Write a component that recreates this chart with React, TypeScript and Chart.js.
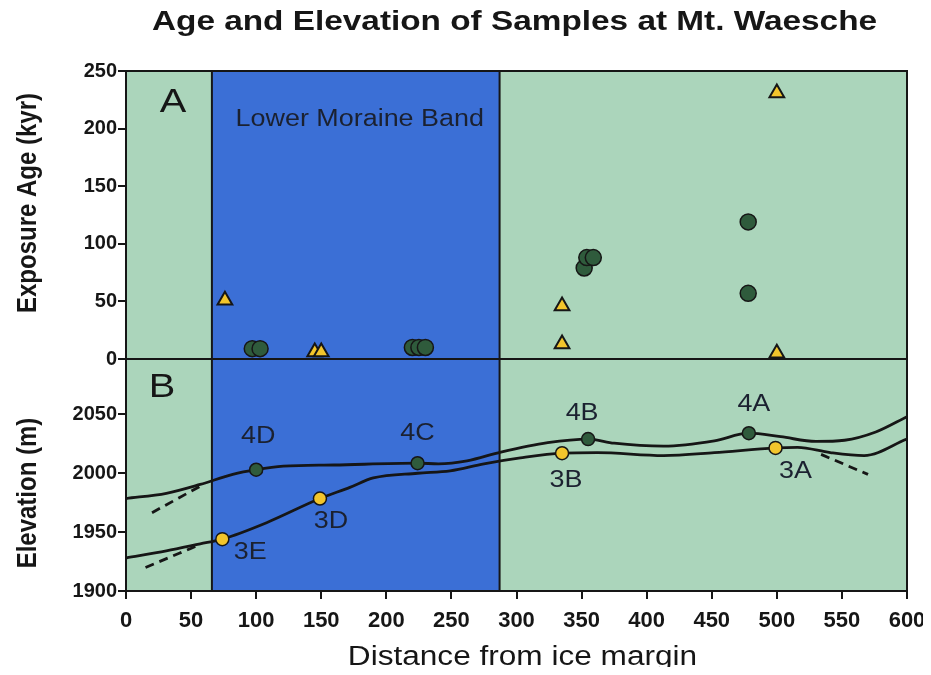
import React, { useEffect, useRef } from 'react';
import { Chart, registerables } from 'chart.js';

Chart.register(...registerables);

// ---------- data ----------
const xTicks = [0, 50, 100, 150, 200, 250, 300, 350, 400, 450, 500, 550, 600];
const ageTicks = [0, 50, 100, 150, 200, 250];
const elevTicks = [1900, 1950, 2000, 2050];

const moraineBand = [66, 287];

// Panel A: exposure ages (kyr)
const ageCircleX = [97, 103, 220, 225, 230, 352, 354, 359, 478, 478];
const ageCircleY = [9, 9, 10, 10, 10, 79, 88, 88, 119, 57];
const ageTriangleX = [76, 145, 150, 335, 335, 500, 500];
const ageTriangleY = [51, 6, 6, 46, 13, 231, 5];

// Panel B: moraine profiles (elevation, m)
const upperX = [0, 31, 57, 82, 100, 121, 160, 224, 240, 262, 288, 324, 355, 375, 413, 452, 478.5, 503, 530, 552, 576, 600];
const upperY = [1978.5, 1983, 1990.5, 1999, 2003, 2006, 2007, 2008.5, 2008, 2010.5, 2018, 2026, 2029, 2025.5, 2023, 2027.5, 2034, 2031, 2027, 2028, 2035, 2048];
const lowerX = [0, 31, 57, 74, 108, 149, 172, 190, 224, 249, 275, 303, 335, 362, 413, 452, 499, 516, 541, 567, 600];
const lowerY = [1928, 1934, 1940, 1944, 1958, 1978.5, 1988, 1996, 2000, 2002, 2008, 2013, 2017, 2017.5, 2015, 2017.5, 2021.5, 2022, 2017.5, 2015, 2029];
const dashUpperX = [20, 57];
const dashUpperY = [1966.5, 1989];
const dashLowerX = [15, 57];
const dashLowerY = [1920, 1939.5];
const dashRightX = [534, 570];
const dashRightY = [2016, 1999];

// Panel B: samples
const sample4Names = ['4D', '4C', '4B', '4A'];
const sample4X = [100, 224, 355, 478.5];
const sample4Y = [2003, 2008.5, 2029, 2034];
const sample3Names = ['3E', '3D', '3B', '3A'];
const sample3X = [74, 149, 335, 499];
const sample3Y = [1944, 1978.5, 2017, 2021.5];

// ---------- styles ----------
const FONT = '"Liberation Sans", Arial, Helvetica, sans-serif';
const GREEN_BG = '#abd5bb';
const BLUE_BG = '#3b6fd6';
const DARK_GREEN = '#2f5b3c';
const YELLOW = '#f2c52c';
const INK = '#161616';
const LABEL_INK = '#1b2130';
const STRETCH = 1.17;

const label4Offsets = [[2, -33], [0, -30], [-6, -25], [5, -29]];
const label3Offsets = [[28, 13], [11, 23], [4, 27], [20, 24]];

const pts = (xs: number[], ys: number[]) => xs.map((x, i) => ({ x, y: ys[i] }));

function drawText(
  ctx: CanvasRenderingContext2D,
  text: string,
  x: number,
  y: number,
  font: string,
  color: string,
  align: CanvasTextAlign = 'center',
  baseline: CanvasTextBaseline = 'middle',
  rotate = 0
) {
  ctx.save();
  ctx.translate(x, y);
  if (rotate) {
    ctx.rotate(rotate);
    ctx.scale(1, STRETCH);
  } else {
    ctx.scale(STRETCH, 1);
  }
  ctx.font = font;
  ctx.fillStyle = color;
  ctx.textAlign = align;
  ctx.textBaseline = baseline;
  ctx.fillText(text, 0, 0);
  ctx.restore();
}

const decorPlugin = {
  id: 'decor',
  beforeDatasetsDraw(chart: any) {
    const { ctx, chartArea } = chart;
    const { left, right, top, bottom } = chartArea;
    const x = chart.scales.x;
    const yA = chart.scales.yA;
    ctx.save();
    ctx.fillStyle = GREEN_BG;
    ctx.fillRect(left, top, right - left, bottom - top);
    const b0 = x.getPixelForValue(moraineBand[0]);
    const b1 = x.getPixelForValue(moraineBand[1]);
    ctx.fillStyle = BLUE_BG;
    ctx.fillRect(b0, top, b1 - b0, bottom - top);
    ctx.strokeStyle = INK;
    ctx.lineWidth = 2;
    ctx.beginPath();
    ctx.moveTo(b0, top);
    ctx.lineTo(b0, bottom);
    ctx.moveTo(b1, top);
    ctx.lineTo(b1, bottom);
    const y0 = yA.getPixelForValue(0);
    ctx.moveTo(left, y0);
    ctx.lineTo(right, y0);
    ctx.stroke();
    ctx.strokeRect(left, top, right - left, bottom - top);
    ctx.restore();
  },
  afterDraw(chart: any) {
    const { ctx, chartArea } = chart;
    const { left, right, top, bottom } = chartArea;
    const x = chart.scales.x;
    const yA = chart.scales.yA;
    const yB = chart.scales.yB;
    const cx = (left + right) / 2;
    drawText(ctx, 'Age and Elevation of Samples at Mt. Waesche', cx - 2, 22, `bold 28.5px ${FONT}`, INK, 'center', 'alphabetic');
    drawText(ctx, 'Distance from ice margin', cx + 6, bottom + 74, `27px ${FONT}`, INK, 'center', 'alphabetic');
    drawText(ctx, 'Exposure Age (kyr)', 28, (yA.top + yA.bottom) / 2 - 12, `bold 24px ${FONT}`, INK, 'center', 'alphabetic', -Math.PI / 2);
    drawText(ctx, 'Elevation (m)', 28, (yB.top + yB.bottom) / 2 + 18, `bold 24px ${FONT}`, INK, 'center', 'alphabetic', -Math.PI / 2);
    drawText(ctx, 'A', left + 47, top + 32, `34px ${FONT}`, INK);
    drawText(ctx, 'B', left + 36, yA.getPixelForValue(0) + 29, `34px ${FONT}`, INK);
    const bandCenter = (x.getPixelForValue(moraineBand[0]) + x.getPixelForValue(moraineBand[1])) / 2;
    drawText(ctx, 'Lower Moraine Band', bandCenter + 4, top + 49, `23px ${FONT}`, LABEL_INK);
    sample4Names.forEach((n, i) => {
      const px = x.getPixelForValue(sample4X[i]) + label4Offsets[i][0];
      const py = yB.getPixelForValue(sample4Y[i]) + label4Offsets[i][1];
      drawText(ctx, n, px, py, `23px ${FONT}`, LABEL_INK);
    });
    sample3Names.forEach((n, i) => {
      const px = x.getPixelForValue(sample3X[i]) + label3Offsets[i][0];
      const py = yB.getPixelForValue(sample3Y[i]) + label3Offsets[i][1];
      drawText(ctx, n, px, py, `23px ${FONT}`, LABEL_INK);
    });
  },
};

const tickFont = (size: number) => ({ family: FONT, size, weight: 'bold' as const });
const plainTick = (v: any) => String(v);

export default function App() {
  const canvasRef = useRef<HTMLCanvasElement | null>(null);

  useEffect(() => {
    const canvas = canvasRef.current;
    if (!canvas) return;

    const profileLine = (data: any[], dashed = false) => ({
      type: 'line' as const,
      data,
      yAxisID: 'yB',
      borderColor: INK,
      borderWidth: 2.8,
      borderDash: dashed ? [9, 6] : [],
      pointRadius: 0,
      fill: false,
      showLine: true,
      cubicInterpolationMode: 'monotone' as const,
    });

    const axisGrid = { display: true, drawOnChartArea: false, drawTicks: true, tickLength: 8, color: INK, lineWidth: 2 };
    const axisBorder = { display: true, color: INK, width: 2 };

    const chart = new Chart(canvas, {
      type: 'scatter',
      data: {
        datasets: [
          {
            data: pts(sample4X, sample4Y),
            yAxisID: 'yB',
            pointStyle: 'circle',
            pointRadius: 6.5,
            backgroundColor: DARK_GREEN,
            borderColor: INK,
            borderWidth: 1.5,
          },
          {
            data: pts(sample3X, sample3Y),
            yAxisID: 'yB',
            pointStyle: 'circle',
            pointRadius: 6.5,
            backgroundColor: YELLOW,
            borderColor: INK,
            borderWidth: 1.5,
          },
          {
            data: pts(ageTriangleX, ageTriangleY),
            yAxisID: 'yA',
            pointStyle: 'triangle',
            pointRadius: 8.5,
            backgroundColor: YELLOW,
            borderColor: INK,
            borderWidth: 2,
          },
          {
            data: pts(ageCircleX, ageCircleY),
            yAxisID: 'yA',
            pointStyle: 'circle',
            pointRadius: 8,
            backgroundColor: DARK_GREEN,
            borderColor: INK,
            borderWidth: 1.5,
          },
          profileLine(pts(upperX, upperY)),
          profileLine(pts(lowerX, lowerY)),
          profileLine(pts(dashUpperX, dashUpperY), true),
          profileLine(pts(dashLowerX, dashLowerY), true),
          profileLine(pts(dashRightX, dashRightY), true),
        ] as any,
      },
      options: {
        animation: false,
        responsive: false,
        devicePixelRatio: 1,
        layout: { padding: { left: 0, right: 24, top: 63, bottom: 0 } },
        plugins: { legend: { display: false }, tooltip: { enabled: false }, title: { display: false } },
        scales: {
          x: {
            type: 'linear',
            min: 0,
            max: 600,
            afterBuildTicks: (a: any) => {
              a.ticks = xTicks.map((v) => ({ value: v }));
            },
            afterFit: (a: any) => {
              a.height = 84;
              a.paddingLeft = 0;
              a.paddingRight = 0;
            },
            grid: axisGrid,
            border: axisBorder,
            ticks: { font: tickFont(22), color: INK, padding: 9, maxRotation: 0, autoSkip: false, callback: plainTick },
          },
          yB: {
            type: 'linear',
            position: 'left',
            stack: 'panels',
            stackWeight: 232,
            min: 1900,
            max: 2097,
            afterBuildTicks: (a: any) => {
              a.ticks = elevTicks.map((v) => ({ value: v }));
            },
            afterFit: (a: any) => {
              a.width = 118;
            },
            grid: axisGrid,
            border: axisBorder,
            ticks: { font: tickFont(20), color: INK, padding: 1, autoSkip: false, callback: plainTick },
          },
          yA: {
            type: 'linear',
            position: 'left',
            stack: 'panels',
            stackWeight: 288,
            min: 0,
            max: 250,
            afterBuildTicks: (a: any) => {
              a.ticks = ageTicks.map((v) => ({ value: v }));
            },
            afterFit: (a: any) => {
              a.width = 118;
            },
            grid: axisGrid,
            border: axisBorder,
            ticks: { font: tickFont(20), color: INK, padding: 1, autoSkip: false, callback: plainTick },
          },
        },
      } as any,
      plugins: [decorPlugin],
    });

    return () => chart.destroy();
  }, []);

  return (
    <div style={{ width: 915, height: 659 }}>
      <canvas ref={canvasRef} width={923} height={667} style={{ display: 'block' }} />
    </div>
  );
}
